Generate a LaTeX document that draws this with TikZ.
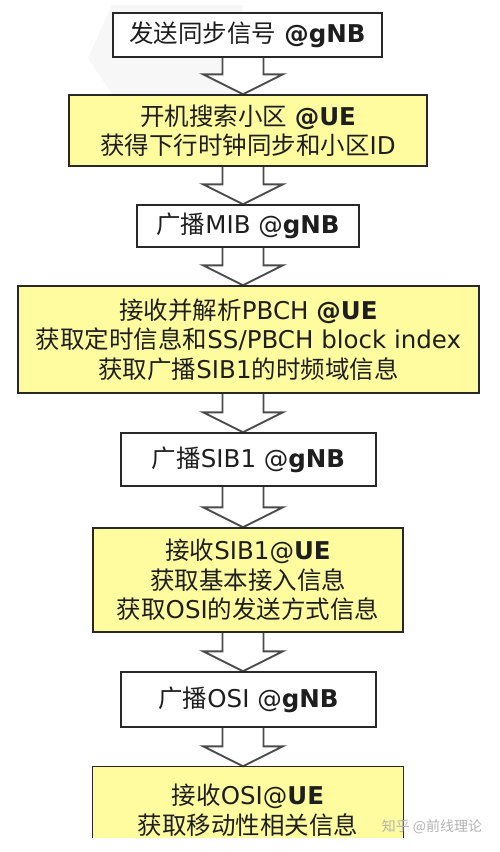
\documentclass[tikz,border=0pt]{standalone}
\usepackage{fontspec}
\setmainfont{DejaVu Sans}
\newfontfamily\cjk{Noto Sans CJK SC}
\usetikzlibrary{calc,backgrounds}
\definecolor{boxyellow}{RGB}{255,252,160}
\definecolor{txt}{RGB}{30,30,30}
\definecolor{edge}{RGB}{40,40,40}
\definecolor{arrowedge}{RGB}{75,75,75}
\newcommand\zh[1]{{\cjk #1}}
\tikzset{
  box/.style={draw=edge, line width=1.4pt, text=txt, align=center, inner sep=0pt,
    font=\fontsize{24.5}{29.5}\selectfont},
  gbox/.style={box, fill=white},
  ybox/.style={box, fill=boxyellow},
  blockarrow/.style={draw=arrowedge, fill=white, line width=1.9pt, line join=miter},
}
\newcommand\blkarrow[2]{%
  \begin{scope}[on background layer]
  \draw[blockarrow] let \p1=(#1.south), \p2=(#2.north) in
    (222.5pt,\y1) -- (222.5pt,\y2+20pt) -- (203pt,\y2+20pt) -- (243pt,\y2)
    -- (283pt,\y2+20pt) -- (263.5pt,\y2+20pt) -- (263.5pt,\y1);
  \end{scope}}
\begin{document}
\begin{tikzpicture}[x=1pt,y=-1pt]
\useasboundingbox (0,0) rectangle (500,852);
\begin{scope}[on background layer]
  \fill[black!3] (88,58) -- (112,5) -- (243,5) -- (243,94) -- (112,94) -- cycle;
\end{scope}

\node[gbox, minimum width=269, minimum height=44] (b1) at (247.5,35)
  {\zh{发送同步信号} \textbf{@gNB}};
\node[ybox, minimum width=358, minimum height=71] (b2) at (248,130.5)
  {\zh{开机搜索小区} \textbf{@UE}\\\zh{获得下行时钟同步和小区}ID};
\node[gbox, minimum width=222, minimum height=42] (b3) at (248,226)
  {\zh{广播}MIB @\textbf{gNB}};
\node[ybox, minimum width=461, minimum height=107] (b4) at (248.5,339.5)
  {\zh{接收并解析}PBCH \textbf{@UE}\\\zh{获取定时信息和}SS/PBCH block index\\\zh{获取广播}SIB1\zh{的时频域信息}};
\node[gbox, minimum width=255, minimum height=53] (b5) at (248.5,459.5)
  {\zh{广播}SIB1 @\textbf{gNB}};
\node[ybox, minimum width=310, minimum height=104] (b6) at (248,580)
  {\zh{接收}SIB1@\textbf{UE}\\\zh{获取基本接入信息}\\\zh{获取}OSI\zh{的发送方式信息}};
\node[gbox, minimum width=255, minimum height=55] (b7) at (248.5,699.5)
  {\zh{广播}OSI @\textbf{gNB}};
\node[box, draw=none, minimum width=310, minimum height=86] (b8) at (248,810)
  {\zh{接收}OSI@\textbf{UE}\\\zh{获取移动性相关信息}};
\begin{scope}[on background layer]
  \fill[boxyellow] (b8.north west) rectangle ([yshift=16pt]b8.south east);
\end{scope}
\draw[edge, line width=1.4pt] ([yshift=16pt]b8.south west) -- (b8.north west)
  -- (b8.north east) -- ([yshift=16pt]b8.south east);

\blkarrow{b1}{b2}
\blkarrow{b2}{b3}
\blkarrow{b3}{b4}
\blkarrow{b4}{b5}
\blkarrow{b5}{b6}
\blkarrow{b6}{b7}
\blkarrow{b7}{b8}

\node[font=\cjk\fontsize{14}{14}\selectfont, text=black!30, inner sep=0pt] (wm) at (432,827) {知乎 @前线理论};
\end{tikzpicture}
\end{document}
